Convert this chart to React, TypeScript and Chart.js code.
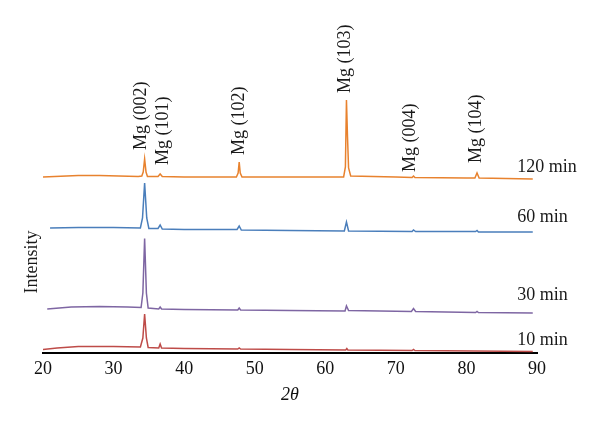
import React, { useEffect, useRef } from "react";
import { Chart, registerables } from "chart.js";

Chart.register(...registerables);

// 2θ positions and intensities (arbitrary units, series stacked with offsets)
const x120 = [20, 25, 28, 33.5, 34.0, 34.2, 34.4, 34.6, 34.8, 35.5, 36.3, 36.6, 36.9, 40, 45, 47.4, 47.65, 47.8, 47.95, 48.2, 55, 62.6, 62.85, 63.0, 63.15, 63.3, 63.6, 70, 72.3, 72.5, 72.7, 80, 81.2, 81.5, 81.8, 89.4];
const y120 = [176, 177.5, 177.5, 176.5, 177, 181, 194, 181, 176.5, 176.5, 176.5, 179, 176.5, 176, 176, 176, 180, 191, 180, 176, 176, 176, 186, 253, 216, 185, 177, 176, 175.5, 177, 175.5, 175, 175, 180, 175, 174];

const x60 = [21, 25, 30, 33.8, 34.1, 34.4, 34.7, 35.0, 36.3, 36.6, 36.9, 40, 47.5, 47.8, 48.1, 55, 62.7, 63.0, 63.3, 72.3, 72.5, 72.8, 81.3, 81.5, 81.7, 89.4];
const y60 = [125, 125.5, 125.5, 125, 135, 170, 135, 124.5, 124.5, 128, 124, 123.5, 123.5, 127, 123, 122.5, 122, 131, 122, 121.5, 123, 121.5, 121.5, 122.5, 121, 121];

const x30 = [20.6, 24, 28, 32, 33.9, 34.15, 34.4, 34.65, 34.9, 36.4, 36.6, 36.8, 40, 47.6, 47.8, 48.0, 55, 62.8, 63.0, 63.3, 72.2, 72.5, 72.8, 81.3, 81.5, 81.7, 89.4];
const y30 = [44, 46, 46.5, 46, 45.5, 60, 114.5, 60, 45, 44, 46, 44, 43.5, 43, 45, 43, 42.5, 42, 47, 42.5, 41.5, 44.5, 41.5, 40.5, 41.5, 40.5, 40];

const x10 = [20, 22, 25, 30, 33.8, 34.15, 34.4, 34.65, 34.9, 36.4, 36.6, 36.8, 40, 47.6, 47.8, 48.0, 55, 62.9, 63.05, 63.2, 72.3, 72.5, 72.7, 89.4];
const y10 = [3.5, 5, 6.5, 6.5, 6, 15, 39, 15, 5.5, 5, 9, 5, 4.5, 4, 5, 4, 3.5, 3, 4.5, 3, 2.5, 3.5, 2.5, 1.5];

const seriesNames = ["120 min", "60 min", "30 min", "10 min"];
const seriesColors = ["#E8822E", "#4A7EBB", "#7E66A3", "#BE4B48"];
const seriesX = [x120, x60, x30, x10];
const seriesY = [y120, y60, y30, y10];
const seriesLabelX = [87.2, 87.2, 87.2, 87.2];
const seriesLabelY = [186, 136, 58, 13];

const peakLabels = ["Mg (002)", "Mg (101)", "Mg (102)", "Mg (103)", "Mg (004)", "Mg (104)"];
const peakLabelX = [33.9, 37.0, 47.8, 62.8, 72.0, 81.4];
const peakLabelY = [203, 188, 198, 260, 181, 190];

const xTicks = [20, 30, 40, 50, 60, 70, 80, 90];

const SERIF = "'Liberation Serif', 'Times New Roman', serif";

const textPlugin = {
  id: "xrdText",
  afterDraw(chart: any) {
    const { ctx, scales } = chart;
    const xs = scales.x;
    const ys = scales.y;
    ctx.save();
    ctx.fillStyle = "#1a1a1a";
    ctx.font = `18px ${SERIF}`;
    // peak labels (rotated)
    peakLabels.forEach((t, i) => {
      const px = xs.getPixelForValue(peakLabelX[i]);
      const py = ys.getPixelForValue(peakLabelY[i]);
      ctx.save();
      ctx.translate(px, py);
      ctx.rotate(-Math.PI / 2);
      ctx.textAlign = "left";
      ctx.textBaseline = "middle";
      ctx.fillText(t, 0, 0);
      ctx.restore();
    });
    // series labels
    seriesNames.forEach((t, i) => {
      const px = xs.getPixelForValue(seriesLabelX[i]);
      const py = ys.getPixelForValue(seriesLabelY[i]);
      ctx.textAlign = "left";
      ctx.textBaseline = "middle";
      ctx.fillText(t, px, py);
    });
    // y-axis title
    ctx.save();
    ctx.translate(32, 262);
    ctx.rotate(-Math.PI / 2);
    ctx.textAlign = "center";
    ctx.textBaseline = "middle";
    ctx.fillText("Intensity", 0, 0);
    ctx.restore();
    ctx.restore();
  },
};

export default function App() {
  const ref = useRef<HTMLCanvasElement | null>(null);
  useEffect(() => {
    if (!ref.current) return;
    const chart = new Chart(ref.current, {
      type: "line",
      data: {
        datasets: seriesNames.map((name, i) => ({
          label: name,
          data: seriesX[i].map((v, j) => ({ x: v, y: seriesY[i][j] })),
          borderColor: seriesColors[i],
          backgroundColor: seriesColors[i],
          borderWidth: 1.5,
          pointRadius: 0,
          tension: 0,
          fill: false,
        })),
      },
      options: {
        animation: false,
        responsive: true,
        maintainAspectRatio: false,
        layout: { padding: { left: 0, right: 63, top: 20, bottom: 0 } },
        plugins: { legend: { display: false }, tooltip: { enabled: false } },
        scales: {
          x: {
            type: "linear",
            min: 20,
            max: 90,
            afterBuildTicks: (s: any) => {
              s.ticks = xTicks.map((v) => ({ value: v }));
            },
            afterFit: (s: any) => {
              s.height = 77;
            },
            grid: { display: false, drawTicks: false },
            border: { display: true, color: "#000", width: 2 },
            ticks: {
              padding: 5,
              color: "#111",
              font: { family: SERIF, size: 18 },
              maxRotation: 0,
            },
            title: {
              display: true,
              text: "2θ",
              color: "#111",
              font: { family: SERIF, size: 18, style: "italic" },
              padding: { top: 0, bottom: 24 },
            },
          },
          y: {
            type: "linear",
            min: 0,
            max: 333,
            afterFit: (s: any) => {
              s.width = 43;
            },
            grid: { display: false },
            border: { display: false },
            ticks: { display: false },
          },
        },
      },
      plugins: [textPlugin],
    });
    return () => chart.destroy();
  }, []);
  return (
    <div style={{ position: "fixed", left: 0, top: 0, width: 600, height: 430, background: "#fff" }}>
      <canvas ref={ref} />
    </div>
  );
}
